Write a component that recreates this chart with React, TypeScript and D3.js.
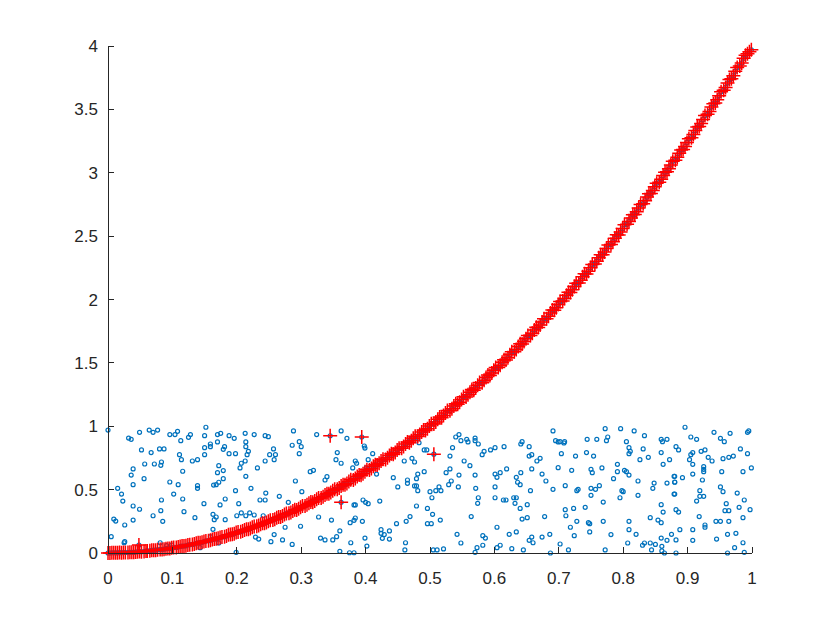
import {useEffect} from "react";
import * as d3 from "d3";

// blue scatter
const uniformPts: [number, number][] = [
  [0.000,0.970],[0.049,0.952],[0.064,0.970],[0.070,0.952],[0.077,0.970],[0.152,0.992],[0.096,0.934],[0.104,0.934],[0.108,0.960],[0.128,0.934],[0.125,0.913],[0.032,0.907],[0.036,0.897],[0.113,0.886],[0.150,0.926],[0.159,0.860],[0.159,0.839],[0.052,0.813],[0.067,0.792],[0.080,0.821],[0.087,0.821],[0.150,0.831],[0.111,0.776],[0.114,0.736],[0.131,0.726],[0.139,0.736],[0.150,0.776],[0.083,0.718],[0.057,0.702],[0.072,0.702],[0.082,0.692],[0.039,0.663],[0.036,0.615],[0.116,0.645],[0.056,0.586],[0.039,0.539],[0.096,0.560],[0.109,0.539],[0.139,0.531],[0.139,0.510],[0.164,0.536],[0.015,0.510],[0.021,0.465],[0.102,0.465],[0.023,0.410],[0.083,0.418],[0.116,0.426],[0.149,0.389],[0.039,0.371],[0.049,0.345],[0.082,0.334],[0.118,0.326],[0.070,0.294],[0.009,0.268],[0.012,0.252],[0.039,0.260],[0.085,0.250],[0.135,0.279],[0.163,0.305],[0.165,0.263],[0.026,0.221],[0.163,0.187],[0.005,0.129],[0.026,0.089],[0.025,0.081],[0.081,0.081],[0.159,0.129],[0.091,0.058],[0.099,0.063],[0.143,0.042],
  [0.170,0.934],[0.175,0.944],[0.188,0.926],[0.196,0.905],[0.213,0.944],[0.227,0.934],[0.244,0.926],[0.249,0.918],[0.288,0.963],[0.324,0.934],[0.170,0.876],[0.297,0.878],[0.300,0.839],[0.286,0.850],[0.181,0.839],[0.179,0.818],[0.214,0.876],[0.214,0.839],[0.218,0.802],[0.216,0.776],[0.188,0.784],[0.198,0.784],[0.257,0.821],[0.251,0.776],[0.260,0.776],[0.297,0.784],[0.258,0.736],[0.244,0.726],[0.213,0.726],[0.207,0.708],[0.205,0.671],[0.232,0.671],[0.172,0.689],[0.170,0.634],[0.179,0.650],[0.319,0.652],[0.314,0.642],[0.214,0.605],[0.340,0.602],[0.337,0.576],[0.291,0.568],[0.172,0.558],[0.168,0.539],[0.179,0.586],[0.222,0.510],[0.198,0.492],[0.245,0.473],[0.301,0.484],[0.266,0.447],[0.182,0.426],[0.236,0.418],[0.244,0.418],[0.280,0.400],[0.203,0.389],[0.174,0.379],[0.168,0.284],[0.182,0.263],[0.200,0.294],[0.207,0.316],[0.214,0.294],[0.220,0.316],[0.227,0.300],[0.241,0.294],[0.327,0.284],[0.275,0.203],[0.299,0.211],[0.229,0.126],[0.258,0.145],[0.234,0.110],[0.253,0.089],[0.271,0.103],[0.330,0.118],[0.337,0.103],[0.286,0.068],[0.199,0.005],[0.172,0.079],
  [0.362,0.963],[0.371,0.905],[0.398,0.844],[0.399,0.828],[0.356,0.792],[0.354,0.736],[0.362,0.708],[0.384,0.726],[0.386,0.708],[0.411,0.784],[0.380,0.671],[0.404,0.736],[0.401,0.671],[0.417,0.623],[0.460,0.726],[0.472,0.747],[0.476,0.718],[0.491,0.813],[0.495,0.813],[0.483,0.870],[0.470,0.897],[0.481,0.905],[0.443,0.594],[0.465,0.576],[0.465,0.550],[0.479,0.586],[0.481,0.623],[0.491,0.642],[0.476,0.529],[0.479,0.529],[0.450,0.521],[0.481,0.492],[0.500,0.484],[0.509,0.492],[0.514,0.521],[0.517,0.492],[0.503,0.436],[0.396,0.418],[0.400,0.400],[0.404,0.389],[0.422,0.410],[0.382,0.379],[0.384,0.379],[0.479,0.371],[0.496,0.352],[0.504,0.305],[0.469,0.287],[0.463,0.250],[0.384,0.276],[0.382,0.258],[0.376,0.239],[0.395,0.250],[0.347,0.260],[0.448,0.231],[0.496,0.231],[0.502,0.231],[0.516,0.260],[0.360,0.174],[0.424,0.184],[0.424,0.155],[0.437,0.174],[0.429,0.145],[0.426,0.116],[0.437,0.110],[0.399,0.118],[0.355,0.129],[0.349,0.103],[0.377,0.081],[0.462,0.081],[0.402,0.055],[0.360,0.013],[0.375,0.002],[0.382,0.002],[0.461,0.024],[0.505,0.024],[0.511,0.024],[0.521,0.032],
  [0.545,0.934],[0.540,0.915],[0.548,0.886],[0.557,0.897],[0.559,0.876],[0.570,0.907],[0.570,0.886],[0.575,0.860],[0.535,0.831],[0.594,0.813],[0.601,0.831],[0.615,0.839],[0.584,0.802],[0.581,0.776],[0.643,0.878],[0.641,0.860],[0.654,0.839],[0.691,0.963],[0.695,0.886],[0.699,0.876],[0.531,0.765],[0.553,0.726],[0.562,0.689],[0.531,0.663],[0.525,0.634],[0.545,0.615],[0.570,0.615],[0.601,0.623],[0.604,0.597],[0.609,0.634],[0.619,0.663],[0.641,0.634],[0.658,0.663],[0.674,0.623],[0.699,0.673],[0.654,0.765],[0.658,0.776],[0.666,0.726],[0.671,0.747],[0.533,0.568],[0.529,0.539],[0.544,0.521],[0.571,0.510],[0.601,0.521],[0.634,0.597],[0.636,0.558],[0.640,0.539],[0.680,0.568],[0.656,0.492],[0.691,0.502],[0.575,0.436],[0.574,0.392],[0.601,0.436],[0.614,0.418],[0.618,0.418],[0.630,0.436],[0.634,0.436],[0.632,0.392],[0.640,0.352],[0.651,0.381],[0.564,0.287],[0.643,0.268],[0.651,0.279],[0.678,0.287],[0.604,0.203],[0.634,0.166],[0.623,0.147],[0.542,0.147],[0.582,0.137],[0.586,0.118],[0.548,0.079],[0.658,0.126],[0.654,0.100],[0.660,0.081],[0.674,0.126],[0.686,0.147],[0.573,0.042],[0.582,0.061],[0.609,0.061],[0.604,0.042],[0.627,0.034],[0.645,0.024],[0.687,0.000],[0.570,0.005],
  [0.772,0.981],[0.796,0.981],[0.817,0.963],[0.776,0.915],[0.774,0.886],[0.744,0.897],[0.759,0.897],[0.805,0.878],[0.833,0.926],[0.859,0.897],[0.861,0.878],[0.868,0.897],[0.708,0.868],[0.709,0.878],[0.702,0.878],[0.704,0.784],[0.726,0.765],[0.743,0.792],[0.754,0.765],[0.809,0.831],[0.811,0.802],[0.809,0.784],[0.831,0.821],[0.839,0.755],[0.859,0.792],[0.826,0.736],[0.791,0.700],[0.862,0.700],[0.872,0.736],[0.720,0.652],[0.750,0.660],[0.752,0.634],[0.767,0.671],[0.791,0.642],[0.802,0.652],[0.805,0.642],[0.809,0.615],[0.785,0.586],[0.823,0.568],[0.848,0.552],[0.846,0.510],[0.868,0.552],[0.879,0.605],[0.880,0.560],[0.710,0.531],[0.730,0.502],[0.728,0.492],[0.750,0.510],[0.757,0.502],[0.763,0.531],[0.798,0.492],[0.800,0.484],[0.750,0.455],[0.795,0.436],[0.823,0.455],[0.769,0.402],[0.859,0.381],[0.862,0.323],[0.879,0.465],[0.710,0.342],[0.723,0.352],[0.741,0.360],[0.711,0.294],[0.728,0.250],[0.746,0.239],[0.748,0.231],[0.769,0.250],[0.809,0.250],[0.842,0.279],[0.854,0.260],[0.859,0.239],[0.718,0.203],[0.748,0.166],[0.809,0.184],[0.724,0.137],[0.781,0.145],[0.820,0.147],[0.859,0.118],[0.868,0.100],[0.875,0.147],[0.807,0.079],[0.830,0.061],[0.833,0.079],[0.842,0.079],[0.850,0.068],[0.860,0.053],[0.715,0.024],[0.772,0.024],[0.844,0.024],[0.860,0.016],[0.864,0.000],[0.702,0.071],
  [0.896,0.992],[0.905,0.915],[0.914,0.897],[0.941,0.952],[0.951,0.905],[0.957,0.878],[0.966,0.944],[0.993,0.952],[0.995,0.963],[0.882,0.839],[0.886,0.813],[0.905,0.776],[0.908,0.792],[0.921,0.802],[0.927,0.813],[0.903,0.736],[0.908,0.700],[0.932,0.755],[0.938,0.726],[0.955,0.744],[0.964,0.755],[0.971,0.765],[0.982,0.821],[0.993,0.784],[0.925,0.681],[0.925,0.660],[0.925,0.642],[0.953,0.642],[0.986,0.642],[0.999,0.671],[0.880,0.605],[0.892,0.594],[0.908,0.623],[0.923,0.576],[0.880,0.558],[0.951,0.521],[0.955,0.484],[0.977,0.473],[0.919,0.492],[0.919,0.447],[0.925,0.447],[0.914,0.410],[0.988,0.418],[0.880,0.465],[0.960,0.389],[0.958,0.334],[0.964,0.334],[0.980,0.360],[0.997,0.342],[0.882,0.342],[0.886,0.323],[0.918,0.287],[0.944,0.250],[0.951,0.250],[0.964,0.250],[0.927,0.221],[0.927,0.203],[0.986,0.279],[0.888,0.184],[0.908,0.184],[0.945,0.110],[0.962,0.147],[0.975,0.155],[0.882,0.103],[0.908,0.100],[0.986,0.081],[0.973,0.042],[0.988,0.005],[0.962,0.000],[0.882,0.000]
];

// red "+" points along the curve
const curvePts: [number, number][] = [
  [0.000,0.000],[0.006,0.002],[0.012,0.001],[0.018,0.003],[0.024,0.004],[0.031,0.003],[0.037,0.006],[0.043,0.008],[0.049,0.011],[0.056,0.012],
  [0.061,0.016],[0.068,0.021],[0.074,0.022],[0.081,0.028],[0.087,0.030],[0.093,0.036],[0.099,0.041],[0.106,0.044],[0.112,0.052],[0.118,0.055],
  [0.124,0.063],[0.131,0.068],[0.137,0.076],[0.143,0.081],[0.149,0.090],[0.156,0.097],[0.162,0.106],[0.168,0.112],[0.174,0.122],[0.181,0.128],
  [0.187,0.143],[0.193,0.147],[0.199,0.162],[0.206,0.168],[0.212,0.182],[0.218,0.188],[0.224,0.203],[0.231,0.211],[0.237,0.227],[0.243,0.234],
  [0.249,0.251],[0.256,0.260],[0.262,0.278],[0.268,0.284],[0.274,0.303],[0.281,0.313],[0.287,0.332],[0.293,0.340],[0.299,0.361],[0.306,0.371],
  [0.312,0.392],[0.318,0.401],[0.324,0.424],[0.331,0.434],[0.337,0.458],[0.343,0.467],[0.349,0.491],[0.356,0.503],[0.362,0.528],[0.368,0.538],
  [0.374,0.565],[0.381,0.575],[0.387,0.604],[0.393,0.613],[0.399,0.642],[0.406,0.654],[0.412,0.684],[0.418,0.694],[0.424,0.725],[0.431,0.738],
  [0.437,0.770],[0.443,0.779],[0.449,0.812],[0.456,0.826],[0.462,0.860],[0.468,0.870],[0.474,0.905],[0.481,0.919],[0.487,0.955],[0.493,0.966],
  [0.499,1.002],[0.506,1.018],[0.512,1.055],[0.518,1.067],[0.524,1.104],[0.531,1.122],[0.537,1.159],[0.543,1.173],[0.549,1.212],[0.556,1.230],
  [0.562,1.269],[0.568,1.285],[0.574,1.324],[0.581,1.344],[0.587,1.384],[0.593,1.401],[0.599,1.441],[0.606,1.463],[0.612,1.504],[0.618,1.522],
  [0.624,1.564],[0.631,1.587],[0.637,1.629],[0.643,1.648],[0.649,1.691],[0.656,1.715],[0.662,1.759],[0.668,1.779],[0.674,1.823],[0.681,1.849],
  [0.687,1.894],[0.693,1.915],[0.699,1.960],[0.706,1.988],[0.712,2.034],[0.718,2.056],[0.724,2.103],[0.731,2.131],[0.737,2.179],[0.743,2.202],
  [0.749,2.250],[0.756,2.280],[0.762,2.329],[0.768,2.353],[0.774,2.402],[0.781,2.434],[0.787,2.483],[0.793,2.509],[0.799,2.560],[0.806,2.593],
  [0.812,2.643],[0.818,2.671],[0.824,2.722],[0.831,2.756],[0.837,2.808],[0.843,2.837],[0.849,2.889],[0.856,2.925],[0.862,2.978],[0.868,3.008],
  [0.874,3.062],[0.881,3.099],[0.887,3.153],[0.893,3.184],[0.899,3.239],[0.906,3.277],[0.912,3.333],[0.918,3.365],[0.924,3.421],[0.931,3.461],
  [0.937,3.518],[0.943,3.551],[0.949,3.608],[0.956,3.650],[0.962,3.708],[0.968,3.742],[0.974,3.801],[0.981,3.843],[0.987,3.903],[0.993,3.938],
  [0.999,3.970]
];

// more red points that sit between the ones above (the band is dense)
const curvePts2: [number, number][] = [
  [0.003,0.000],[0.009,0.002],[0.015,0.001],[0.021,0.002],[0.027,0.004],[0.034,0.006],[0.040,0.005],[0.046,0.010],[0.052,0.010],[0.059,0.015],
  [0.065,0.017],[0.071,0.022],[0.077,0.025],[0.084,0.027],[0.090,0.034],[0.096,0.036],[0.102,0.043],[0.109,0.047],[0.115,0.055],[0.121,0.057],
  [0.127,0.066],[0.134,0.071],[0.140,0.080],[0.146,0.084],[0.152,0.095],[0.159,0.100],[0.165,0.110],[0.171,0.116],[0.177,0.127],[0.184,0.134],
  [0.190,0.146],[0.196,0.152],[0.202,0.166],[0.209,0.173],[0.215,0.187],[0.221,0.194],[0.227,0.209],[0.234,0.217],[0.240,0.234],[0.246,0.240],
  [0.252,0.258],[0.259,0.266],[0.265,0.285],[0.271,0.292],[0.277,0.311],[0.284,0.320],[0.290,0.341],[0.296,0.349],[0.302,0.370],[0.309,0.380],
  [0.315,0.402],[0.321,0.410],[0.327,0.433],[0.334,0.444],[0.340,0.468],[0.346,0.477],[0.352,0.502],[0.359,0.513],[0.365,0.539],[0.371,0.549],
  [0.377,0.577],[0.384,0.587],[0.390,0.615],[0.396,0.626],[0.402,0.656],[0.409,0.667],[0.415,0.697],[0.421,0.708],[0.427,0.740],[0.434,0.751],
  [0.440,0.784],[0.446,0.793],[0.452,0.827],[0.459,0.840],[0.465,0.875],[0.471,0.885],[0.477,0.922],[0.484,0.934],[0.490,0.970],[0.496,0.981],
  [0.502,1.020],[0.509,1.034],[0.515,1.072],[0.521,1.084],[0.527,1.124],[0.534,1.138],[0.540,1.178],[0.546,1.190],[0.552,1.232],[0.559,1.248],
  [0.565,1.289],[0.571,1.302],[0.577,1.345],[0.584,1.362],[0.590,1.404],[0.596,1.420],[0.602,1.463],[0.609,1.481],[0.615,1.525],[0.621,1.541],
  [0.627,1.587],[0.634,1.605],[0.640,1.651],[0.646,1.668],[0.652,1.715],[0.659,1.734],[0.665,1.781],[0.671,1.799],[0.677,1.848],[0.684,1.868],
  [0.690,1.917],[0.696,1.935],[0.702,1.985],[0.709,2.008],[0.715,2.058],[0.721,2.077],[0.727,2.129],[0.734,2.152],[0.740,2.203],[0.746,2.223],
  [0.752,2.276],[0.759,2.302],[0.765,2.354],[0.771,2.375],[0.777,2.429],[0.784,2.456],[0.790,2.510],[0.796,2.532],[0.802,2.589],[0.809,2.615],
  [0.815,2.669],[0.821,2.692],[0.827,2.749],[0.834,2.779],[0.840,2.835],[0.846,2.860],[0.852,2.917],[0.859,2.948],[0.865,3.004],[0.871,3.031],
  [0.877,3.090],[0.884,3.123],[0.890,3.180],[0.896,3.207],[0.902,3.268],[0.909,3.302],[0.915,3.360],[0.921,3.389],[0.927,3.451],[0.934,3.484],
  [0.940,3.545],[0.946,3.576],[0.952,3.639],[0.959,3.673],[0.965,3.735],[0.971,3.766],[0.977,3.830],[0.984,3.866],[0.990,3.928],[0.996,3.955]
];

// a few stray red points off the curve
const outlierPts: [number, number][] = [[0.345,0.925],[0.394,0.915],[0.506,0.780],[0.362,0.400],[0.048,0.063]];

const xTicks = [0, 0.1, 0.2, 0.3, 0.4, 0.5, 0.6, 0.7, 0.8, 0.9, 1];
const yTicks = [0, 0.5, 1, 1.5, 2, 2.5, 3, 3.5, 4];

const W = 830, H = 623;
const margin = {top: 46, right: 78, bottom: 70, left: 108};

export default function App() {
  useEffect(() => {
    document.body.style.margin = "0";
  }, []);

  const x = d3.scaleLinear().domain([0, 1]).range([margin.left, W - margin.right]);
  const y = d3.scaleLinear().domain([0, 4]).range([H - margin.bottom, margin.top]);
  const axisColor = "#262626";
  const font = "'Liberation Sans', Arial, Helvetica, sans-serif";
  const plus = (px: number, py: number) => `M${px - 7},${py}H${px + 7}M${px},${py - 7}V${py + 7}`;
  const redPts = curvePts.concat(curvePts2, outlierPts);
  const allBlue = uniformPts.concat(redPts);

  return (
    <svg width={W} height={H} style={{display: "block", background: "#fff"}}>
      <rect width={W} height={H} fill="#fff"/>
      <g>
        {allBlue.map((d, i) => (
          <circle key={i} cx={x(d[0])} cy={y(d[1])} r={2} fill="none" stroke="#0072BD" strokeWidth={1.2}/>
        ))}
      </g>
      <g>
        {redPts.map((d, i) => (
          <path key={i} d={plus(x(d[0]), y(d[1]))} stroke="#ff0000" strokeWidth={1.5} fill="none"/>
        ))}
      </g>
      {/* axes */}
      <g stroke={axisColor} strokeWidth={1} fill="none" shapeRendering="crispEdges">
        <line x1={x(0)} x2={x(1)} y1={y(0)} y2={y(0)}/>
        <line x1={x(0)} x2={x(0)} y1={y(0)} y2={y(4)}/>
        {xTicks.map(t => <line key={"xt" + t} x1={x(t)} x2={x(t)} y1={y(0)} y2={y(0) - 6}/>)}
        {yTicks.map(t => <line key={"yt" + t} x1={x(0)} x2={x(0) + 6} y1={y(t)} y2={y(t)}/>)}
      </g>
      <g fill={axisColor} fontFamily={font} fontSize={17}>
        {xTicks.map(t => (
          <text key={"xl" + t} x={x(t)} y={y(0) + 31} textAnchor="middle">{String(t)}</text>
        ))}
        {yTicks.map(t => (
          <text key={"yl" + t} x={x(0) - 10} y={y(t) + 6} textAnchor="end">{String(t)}</text>
        ))}
      </g>
    </svg>
  );
}
